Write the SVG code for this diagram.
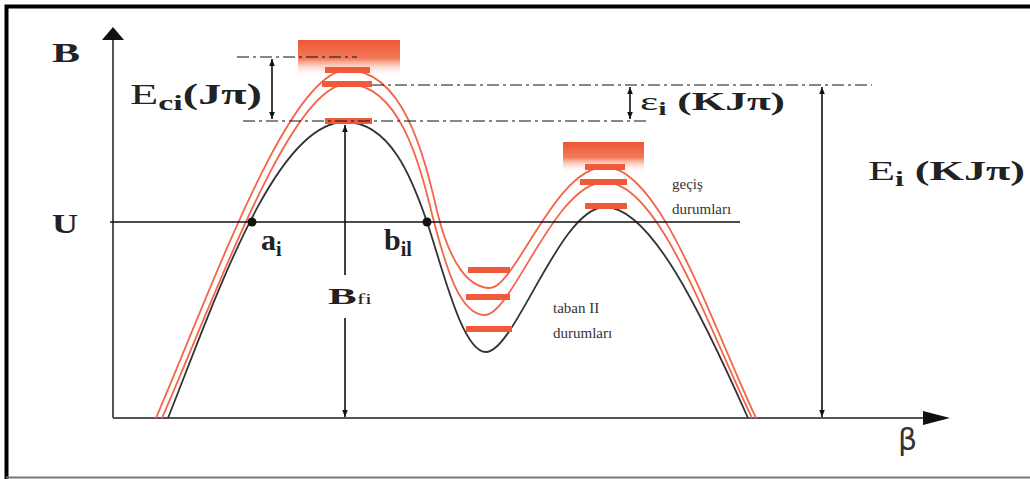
<svg xmlns="http://www.w3.org/2000/svg" width="1030" height="479" viewBox="0 0 1030 479">
<style>
.ax{stroke:#555;stroke-width:2;fill:none}
.ln{stroke:#111;stroke-width:1.6;fill:none}
.dash{stroke:#111;stroke-width:1.2;fill:none;stroke-dasharray:12,4,3,4}
.red{stroke:#f2664a;stroke-width:1.8;fill:none}
.blk{stroke:#333;stroke-width:1.8;fill:none}
.bar{fill:#ef5a3a}
.t{font-family:"Liberation Serif",serif;fill:#222}
.b{font-weight:bold}
.s{font-family:"Liberation Serif",serif;fill:#333;font-size:15px}
</style>
<defs>
<linearGradient id="g" x1="0" y1="0" x2="0" y2="1">
<stop offset="0" stop-color="#ee5634"/>
<stop offset="0.5" stop-color="#f27a5a"/>
<stop offset="1" stop-color="#ffffff" stop-opacity="0"/>
</linearGradient>
<marker id="ah" viewBox="0 0 10 10" refX="10" refY="5" markerWidth="7" markerHeight="7" orient="auto-start-reverse" markerUnits="userSpaceOnUse">
<path d="M0,1 L10,5 L0,9 Z" fill="#111"/>
</marker>
</defs>
<rect x="0" y="0" width="1030" height="479" fill="#fff"/>
<path d="M1030,6.5 H6.5 V479" fill="none" stroke="#000" stroke-width="4"/>
<line x1="6" y1="477.5" x2="1030" y2="477.5" stroke="#777" stroke-width="2"/>

<g id="gradients">
<rect x="298" y="40" width="102" height="37" fill="url(#g)"/>
<rect x="563" y="142" width="81" height="31" fill="url(#g)"/>
</g>

<g id="axes">
<line class="ax" x1="113" y1="418" x2="113" y2="38"/>
<path d="M102,40 L113,27 L124,40 Z" fill="#111"/>
<line class="ax" x1="113" y1="418" x2="928" y2="418"/>
<path d="M923,411 L950,418 L923,425 Z" fill="#111"/>
</g>

<g id="curves">
<path class="red" d="M156,418 C215,280 290,70 347,70 C405,70 425,160 438,215 C450,262 468,288 490,288 C515,288 555,167 605,167 C660,167 710,320 756,418"/>
<path class="red" d="M162,418 C220,285 292,84 347,84 C400,84 420,165 433,218 C446,268 460,315 485,315 C512,315 555,182 605,182 C658,182 706,322 752,418"/>
<path class="blk" d="M168,418 C215,300 275,122 345,122 C390,122 412,178 427,222 C442,266 462,352 486,352 C515,352 560,207 605,207 C650,207 700,310 748,418"/>
</g>

<g id="levels">
<rect class="bar" x="325" y="67" width="45" height="6"/>
<rect class="bar" x="322" y="81" width="50" height="6"/>
<rect class="bar" x="325" y="118" width="47" height="6"/>
<rect class="bar" x="468" y="267" width="42" height="6"/>
<rect class="bar" x="466" y="294" width="44" height="6"/>
<rect class="bar" x="466" y="326" width="46" height="6"/>
<rect class="bar" x="585" y="164" width="40" height="6"/>
<rect class="bar" x="580" y="179" width="47" height="6"/>
<rect class="bar" x="585" y="203" width="42" height="6"/>
</g>

<g id="guides">
<line class="ln" x1="110" y1="222" x2="740" y2="222"/>
<line class="dash" x1="237" y1="57" x2="357" y2="57"/>
<line class="dash" x1="372" y1="85" x2="872" y2="85"/>
<line class="dash" x1="243" y1="121" x2="648" y2="121"/>
</g>

<g id="connectors">
<line class="ln" x1="272" y1="59" x2="272" y2="119" marker-start="url(#ah)" marker-end="url(#ah)"/>
<line class="ln" x1="630" y1="87" x2="630" y2="119" marker-start="url(#ah)" marker-end="url(#ah)"/>
<line class="ln" x1="822" y1="87" x2="822" y2="417" marker-start="url(#ah)" marker-end="url(#ah)"/>
<line class="ln" x1="345" y1="275" x2="345" y2="125" marker-end="url(#ah)"/>
<line class="ln" x1="345" y1="318" x2="345" y2="417" marker-end="url(#ah)"/>
</g>

<g id="points">
<circle cx="252" cy="222" r="4.5" fill="#111"/>
<circle cx="427" cy="222" r="4.5" fill="#111"/>
</g>

<g id="labels">
<text class="t b" x="52" y="62" font-size="27" textLength="28" lengthAdjust="spacingAndGlyphs">B</text>
<text class="t b" x="52" y="233" font-size="27" textLength="26" lengthAdjust="spacingAndGlyphs">U</text>
<text class="t" x="130" y="104" font-size="30" textLength="132" lengthAdjust="spacingAndGlyphs">E<tspan class="b" font-size="22" dy="6">ci</tspan><tspan class="b" dy="-6">(Jπ)</tspan></text>
<text class="t" x="640" y="110" font-size="26" textLength="145" lengthAdjust="spacingAndGlyphs">ε<tspan class="b" font-size="18" dy="5">i</tspan><tspan class="b" dy="-5"> (KJπ)</tspan></text>
<text class="t" x="868" y="180" font-size="28" textLength="157" lengthAdjust="spacingAndGlyphs">E<tspan class="b" font-size="20" dy="6">i</tspan><tspan class="b" dy="-6"> (KJπ)</tspan></text>
<text class="t b" x="261" y="250" font-size="30">a<tspan font-size="20" dy="6">i</tspan></text>
<text class="t b" x="384" y="250" font-size="30">b<tspan font-size="20" dy="6">il</tspan></text>
<text class="t b" x="328" y="304" font-size="24" textLength="44" lengthAdjust="spacingAndGlyphs">B<tspan font-size="14" font-weight="normal">fi</tspan></text>
<text x="898" y="450" font-size="30" font-family="'DejaVu Sans',sans-serif" fill="#333">β</text>
<text class="s" x="672" y="189">geçiş</text>
<text class="s" x="672" y="214">durumları</text>
<text class="s" x="553" y="313">taban II</text>
<text class="s" x="553" y="338">durumları</text>
</g>
</svg>
